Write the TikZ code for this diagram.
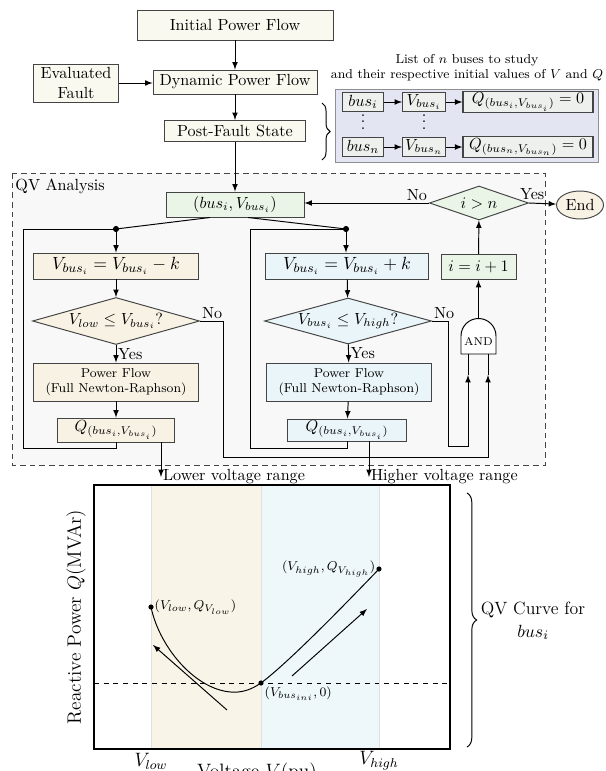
\documentclass[tikz,border=0pt]{standalone}
\usetikzlibrary{shapes.geometric,decorations.pathreplacing,calc}
\newcommand{\pxl}{0.62pt}
\newcommand{\tightvdots}{\vbox{\baselineskip4pt\lineskiplimit0pt\hbox{.}\hbox{.}\hbox{.}}}
\definecolor{topfill}{HTML}{FAF9EF}
\definecolor{creamfill}{HTML}{F8F2E4}
\definecolor{bluefill}{HTML}{EAF5F9}
\definecolor{greenfill}{HTML}{EAF5E7}
\definecolor{listfill}{HTML}{E3E5F3}
\definecolor{itemfill}{HTML}{EDF0EC}
\definecolor{qvfill}{HTML}{F8F8F8}
\definecolor{edge}{HTML}{444444}
\definecolor{bandcream}{HTML}{F8F4E8}
\definecolor{bandblue}{HTML}{EEF7FA}
\tikzset{
  boxsize/.style 2 args={minimum width=#1*\pxl,minimum height=#2*\pxl},
  stepbox/.style={draw=edge,inner sep=1pt},
  choice/.style={diamond,draw=edge,inner sep=0pt,aspect=4},
}
\begin{document}
\begin{tikzpicture}[x=0.62pt,y=-0.62pt,>=latex,semithick]
\useasboundingbox (0,0) rectangle (605,771);
\draw[edge,dash pattern=on 3.5pt off 2.5pt,fill=qvfill] (12,173) rectangle (545,465);
\node[anchor=west,inner sep=0pt] (qvtitle) at (15,186) {QV Analysis};
\node[stepbox,fill=topfill,boxsize={196}{30}] (init) at (235,25) {Initial Power Flow};
\node[stepbox,fill=topfill,boxsize={164}{24}] (dyn) at (235,82) {Dynamic Power Flow};
\node[stepbox,fill=topfill,boxsize={85}{38},align=center] (fault) at (76,83) {Evaluated\\Fault};
\node[stepbox,fill=topfill,boxsize={141}{21}] (post) at (235,131) {Post-Fault State};
\draw[->] (init) -- (dyn);
\draw[->] (fault.east) -- (fault.east -| dyn.west);
\draw[->] (dyn) -- (post);
\draw[decorate,decoration={brace,amplitude=5pt}] (322,103) -- (322,160);
\node[draw=edge!60,fill=listfill,boxsize={263}{73}] (list) at (466.5,125.5) {};
\node[font=\footnotesize,align=center] (listhead) at (467,68) {List of $n$ buses to study\\and their respective initial values of $V$ and $Q$};
\foreach \y/\s in {102/i,147/n} {
  \node[stepbox,fill=itemfill,boxsize={41}{19}] (b\s) at (363,\y) {$bus_\s$};
  \node[stepbox,fill=itemfill,boxsize={43}{19}] (v\s) at (424,\y) {$V_{bus_\s}$};
  \node[stepbox,thick,fill=itemfill,boxsize={130}{19}] (q\s) at (528,\y) {$Q_{(bus_\s,V_{bus_\s})}=0$};
  \draw[->] (b\s) -- (v\s);
  \draw[->] (v\s) -- (q\s);
}
\node[inner sep=0pt] (dotsb) at (363,122) {\tightvdots};
\node[inner sep=0pt] (dotsv) at (424,122) {\tightvdots};
\node[stepbox,fill=greenfill,boxsize={138}{25}] (pair) at (235,204.5) {$(bus_i,V_{bus_i})$};
\draw[->] (post) -- (pair);
\coordinate (dotL) at (116,229);
\coordinate (dotR) at (346,229);
\draw ($(pair.south)+(-25,0)$) -- (dotL);
\draw ($(pair.south)+(13,0)$) -- (dotR);
\fill (dotL) circle (1.9pt);
\fill (dotR) circle (1.9pt);
\node[stepbox,fill=creamfill,boxsize={165}{26},font=\fontsize{11}{13}\selectfont] (subL) at (116,266) {$V_{bus_i}=V_{bus_i}-k$};
\node[choice,fill=creamfill,boxsize={167}{47}] (chkL) at (116,321) {$V_{low}\le V_{bus_i}?$};
\node[stepbox,fill=creamfill,boxsize={165}{38},font=\footnotesize,align=center] (pfL) at (116,382) {Power Flow\\(Full Newton-Raphson)};
\node[stepbox,fill=creamfill,boxsize={117}{24}] (qL) at (116,430) {$Q_{(bus_i,V_{bus_i})}$};
\node[stepbox,fill=bluefill,boxsize={163}{26},font=\fontsize{11}{13}\selectfont] (subR) at (347,266) {$V_{bus_i}=V_{bus_i}+k$};
\node[choice,fill=bluefill,boxsize={167}{46}] (chkR) at (348,321) {$V_{bus_i}\le V_{high}?$};
\node[stepbox,fill=bluefill,boxsize={165}{38},font=\footnotesize,align=center] (pfR) at (349,382) {Power Flow\\(Full Newton-Raphson)};
\node[stepbox,fill=bluefill,boxsize={119}{22}] (qR) at (347,430) {$Q_{(bus_i,V_{bus_i})}$};
\draw[->] (dotL) -- (dotL |- subL.north);
\draw[->] (subL) -- (chkL);
\draw[->] (chkL) -- (pfL) node[midway,right,inner sep=1pt] {Yes};
\draw[->] (pfL) -- (qL);
\draw[->] (dotR) -- (dotR |- subR.north);
\draw[->] (subR) -- (chkR);
\draw[->] (chkR) -- (pfR) node[midway,right,inner sep=1pt] {Yes};
\draw[->] (pfR) -- (qR);
\coordinate (cornL) at (23,448);
\coordinate (cornR) at (250,448);
\draw (qL.south) |- (cornL) |- (dotL);
\draw (qR.south) |- (cornR) |- (dotR);
\coordinate (andin1) at (468,375);
\coordinate (andin2) at (488,375);
\coordinate (andout) at (478.5,318.5);
\draw[fill=white] (461,354) -- (461,336) arc (180:360:17.5) -- (496,354) -- cycle;
\draw (andin1) -- (468,354);
\draw (andin2) -- (488,354);
\node[font=\scriptsize,inner sep=0pt] (andgate) at (478.5,341) {AND};
\coordinate (noL) at (223,457);
\coordinate (noR) at (448,446);
\draw[->] (chkL.east) node[above right,inner sep=1pt] {No} -| (noL) -| (andin2);
\draw[->] (chkR.east) node[above right,inner sep=1pt] {No} -| (noR) -| (andin1);
\node[stepbox,fill=greenfill,boxsize={75}{25}] (inc) at (478.5,267) {$i=i+1$};
\node[choice,fill=greenfill,boxsize={99}{34}] (cond) at (479,203) {$i>n$};
\node[draw=edge,ellipse,fill=creamfill,inner sep=0pt,boxsize={47}{28}] (end) at (580,205) {End};
\draw[->] (andout) -- (inc);
\draw[->] (inc) -- (cond);
\draw[->] (cond.west) node[above left,inner sep=1pt] {No} -- (cond.west -| pair.east);
\draw[->] (cond.east) node[above,xshift=2pt,inner sep=2pt] {Yes} -- (end);
\node[right,inner sep=1pt] (lowlab) at (161,477) {Lower voltage range};
\node[right,inner sep=1pt] (highlab) at (369,477) {Higher voltage range};
\draw[->] (qL.south -| lowlab.west) -- (lowlab.west);
\draw[->] (qR.south -| highlab.west) -- (highlab.west);
\fill[bandcream] (151,485) rectangle (261,749);
\fill[bandblue] (261,485) rectangle (379,749);
\draw[black!12,thin] (151,485) -- (151,749) (261,485) -- (261,749) (379,485) -- (379,749);
\draw[dashed] (94,683) -- (450,683);
\draw[thick] (94,485) rectangle (450,749);
\coordinate (pLow) at (151,607);
\coordinate (pIni) at (261,683);
\coordinate (pHigh) at (379,569);
\draw (pLow) .. controls (160,650) and (200,695) .. (238,692) .. controls (248,691) and (255,687) .. (pIni) .. controls (285,665) and (330,620) .. (pHigh);
\foreach \p in {pLow,pIni,pHigh} \fill (\p) circle (1.6pt);
\node[right,font=\footnotesize,inner sep=2pt] (lowlbl) at (pLow) {$(V_{low},Q_{V_{low}})$};
\node[left,font=\footnotesize,inner sep=2pt] (highlbl) at (pHigh) {$(V_{high},Q_{V_{high}})$};
\node[below right,font=\footnotesize,inner sep=2pt] (inilbl) at (pIni) {$(V_{bus_{ini}},0)$};
\draw[->] (227,710) -- (153,645);
\draw[->] (292,676) -- (367,609);
\node[rotate=90,font=\large] (ylab) at (76,617) {Reactive Power $Q$(MVAr)};
\node[font=\large] (vlow) at (151,761) {$V_{low}$};
\node[font=\large] (vhigh) at (379,761) {$V_{high}$};
\node[font=\large,anchor=north,inner sep=0pt] (vaxis) at (257,762) {Voltage $V$(pu)};
\draw[decorate,decoration={brace,amplitude=6pt}] (467,493) -- (467,747);
\node[font=\fontsize{11}{14}\selectfont,align=center] (curvelbl) at (533,621) {QV Curve for\\$bus_i$};
\end{tikzpicture}
\end{document}
